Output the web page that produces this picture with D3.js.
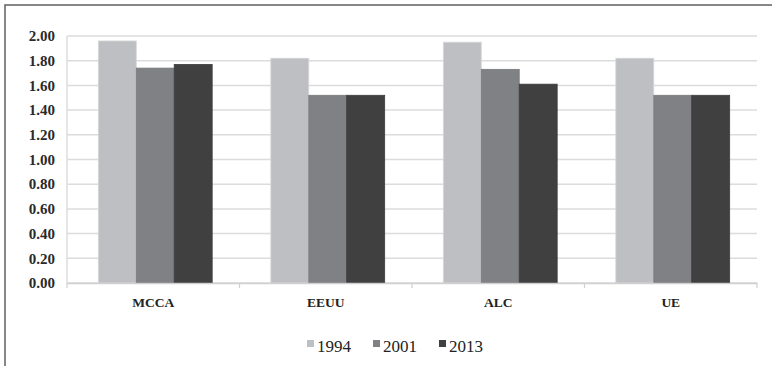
<!DOCTYPE html>
<html>
<head>
<meta charset="utf-8">
<script src="https://cdn.jsdelivr.net/npm/d3@7"></script>
<style>
  body { margin: 0; background: #fff; }
  svg { display: block; font-family: "Liberation Serif", "DejaVu Serif", serif; }
</style>
</head>
<body>
<div id="wrapper"></div>
<script>
const categories = ["MCCA", "EEUU", "ALC", "UE"];
const years = ["1994", "2001", "2013"];
const values1994 = [1.96, 1.82, 1.95, 1.82];
const values2001 = [1.74, 1.52, 1.73, 1.52];
const values2013 = [1.77, 1.52, 1.61, 1.52];
const yTicks = [0, 0.2, 0.4, 0.6, 0.8, 1.0, 1.2, 1.4, 1.6, 1.8, 2.0];
const colors = ["#bebfc3", "#808184", "#404040"];

const series = [values1994, values2001, values2013];
const data = categories.map((c, i) => ({
    category: c,
    values: years.map((y, j) => ({ year: y, value: series[j][i] }))
}));

const dms = {
    width: 772,
    height: 366,
    margins: { top: 36, right: 15, bottom: 83, left: 67 }
};
dms.innerWidth = dms.width - dms.margins.left - dms.margins.right;
dms.innerHeight = dms.height - dms.margins.top - dms.margins.bottom;

const svg = d3.select("#wrapper")
    .append("svg")
        .attr("width", dms.width)
        .attr("height", dms.height);

// outer frame (right and bottom edges run off the picture)
svg.append("rect")
    .attr("x", 5)
    .attr("y", 5)
    .attr("width", 900)
    .attr("height", 500)
    .attr("fill", "none")
    .attr("stroke", "#606060")
    .attr("stroke-width", 1.5);

const inner = svg.append("g")
    .attr("transform", `translate(${dms.margins.left},${dms.margins.top})`);

const xScale = d3.scaleBand()
    .domain(categories)
    .range([0, dms.innerWidth])
    .paddingInner(0)
    .paddingOuter(0);

const yScale = d3.scaleLinear()
    .domain([0, 2])
    .range([dms.innerHeight, 0]);

const groupWidth = xScale.bandwidth() * 0.66;
const innerScale = d3.scaleBand()
    .domain(years)
    .range([0, groupWidth]);

// gridlines
inner.append("g")
    .selectAll("line")
    .data(yTicks)
    .join("line")
        .attr("x1", 0)
        .attr("x2", dms.innerWidth)
        .attr("y1", d => yScale(d))
        .attr("y2", d => yScale(d))
        .attr("stroke", "#dcdcdc")
        .attr("stroke-width", 1.5);

// y axis line
inner.append("line")
    .attr("x1", 0).attr("x2", 0)
    .attr("y1", 0).attr("y2", dms.innerHeight)
    .attr("stroke", "#dcdcdc")
    .attr("stroke-width", 1.5);

// bars
const groups = inner.append("g")
    .selectAll("g")
    .data(data)
    .join("g")
        .attr("transform", d => `translate(${xScale(d.category) + (xScale.bandwidth() - groupWidth) / 2 + 2},0)`);

groups.selectAll("rect")
    .data(d => d.values)
    .join("rect")
        .attr("x", d => innerScale(d.year))
        .attr("y", d => yScale(d.value))
        .attr("width", innerScale.bandwidth())
        .attr("height", d => dms.innerHeight - yScale(d.value))
        .attr("fill", (d, i) => colors[i])
        .attr("stroke", (d, i) => i === 0 ? "#d8d8da" : d3.color(colors[i]).darker(0.2))
        .attr("stroke-width", 0.8);

// x axis
const xAxis = inner.append("g")
    .attr("transform", `translate(0,${dms.innerHeight})`)
    .call(d3.axisBottom(xScale).tickSize(0).tickPadding(14));
xAxis.select(".domain")
    .attr("stroke", "#d0d0d0")
    .attr("stroke-width", 1.5);
xAxis.selectAll("text")
    .attr("fill", "#222")
    .style("font-size", "13.5px")
    .style("font-weight", "bold")
    .style("font-family", "'Liberation Serif', serif");

// category boundary ticks
inner.append("g")
    .selectAll("line")
    .data(d3.range(categories.length + 1))
    .join("line")
        .attr("x1", i => i * xScale.step())
        .attr("x2", i => i * xScale.step())
        .attr("y1", dms.innerHeight)
        .attr("y2", dms.innerHeight + 5)
        .attr("stroke", "#d0d0d0")
        .attr("stroke-width", 1.2);

// y axis labels
inner.append("g")
    .selectAll("text")
    .data(yTicks)
    .join("text")
        .attr("x", -12)
        .attr("y", d => yScale(d))
        .attr("dy", "0.35em")
        .attr("text-anchor", "end")
        .attr("fill", "#2a2a2a")
        .style("font-size", "15px")
        .style("font-weight", "bold")
        .text(d => d.toFixed(2));

// legend
const legendX = [307, 373, 439];
const legend = svg.append("g")
    .attr("transform", `translate(0,346)`);
const items = legend.selectAll("g")
    .data(years)
    .join("g")
        .attr("transform", (d, i) => `translate(${legendX[i]},0)`);
items.append("rect")
    .attr("x", 0)
    .attr("y", -6)
    .attr("width", 7)
    .attr("height", 7)
    .attr("fill", (d, i) => colors[i]);
items.append("text")
    .attr("x", 10)
    .attr("y", 0)
    .attr("dy", "0.35em")
    .attr("fill", "#222")
    .style("font-size", "17px")
    .text(d => d);
</script>
</body>
</html>
